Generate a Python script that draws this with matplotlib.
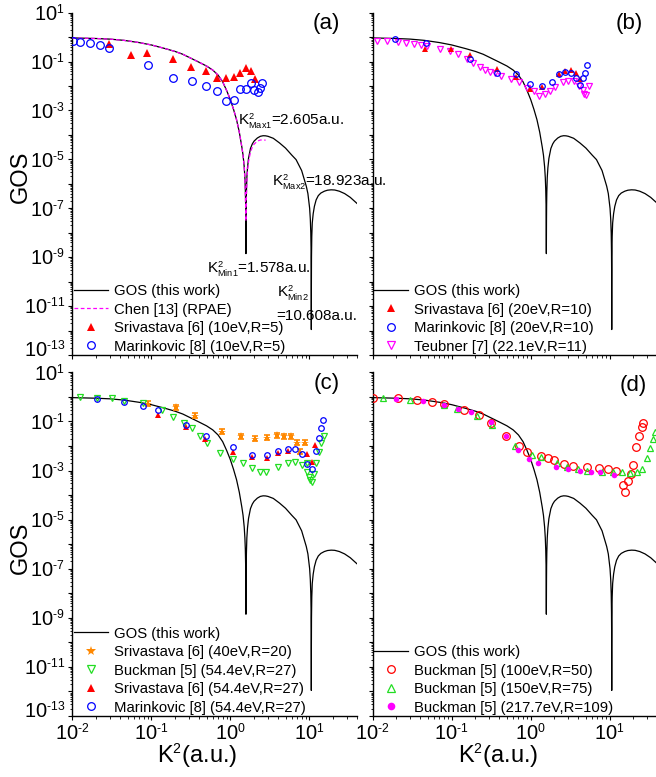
import numpy as np
import matplotlib
matplotlib.use("Agg")
import matplotlib.pyplot as plt
import matplotlib._mathtext as mathtext_internal
from matplotlib.ticker import LogLocator, FuncFormatter, NullFormatter
from matplotlib.transforms import ScaledTranslation

plt.rcParams["font.family"] = "Liberation Sans"
plt.rcParams["mathtext.fontset"] = "custom"
plt.rcParams["mathtext.rm"] = "Liberation Sans"
plt.rcParams["mathtext.it"] = "Liberation Sans:italic"
plt.rcParams["mathtext.bf"] = "Liberation Sans:bold"
# Origin-style exponents are smaller than matplotlib's default
mathtext_internal.SHRINK_FACTOR = 0.6

# ---- theory curve: GOS (this work) ----
gos_k2 = [0.01, 0.02, 0.03, 0.045, 0.07, 0.1, 0.15, 0.2, 0.25, 0.3, 0.4, 0.5, 0.6,
          0.7, 0.8, 0.9, 1.0, 1.1, 1.2, 1.3, 1.4, 1.45, 1.5, 1.53, 1.55, 1.565,
          1.572, 1.576, 1.578, 1.580, 1.584, 1.59, 1.6, 1.62, 1.65, 1.7, 1.8, 1.9,
          2.0, 2.2, 2.4, 2.605, 2.8, 3.0, 3.5, 4.2, 5.0, 6.0, 6.8, 8.0, 9.16, 9.6,
          10.1, 10.3, 10.45, 10.54, 10.58, 10.6, 10.608, 10.62, 10.66, 10.75, 10.9,
          11.2, 11.6, 12.2, 13.0, 14.0, 15.5, 17.0, 18.923, 21.0, 24.0, 28.0, 33.0, 40.0]
gos_val = [0.93, 0.88, 0.83, 0.74, 0.60, 0.48, 0.34, 0.26, 0.20, 0.15, 0.095, 0.066, 0.045,
           0.028, 0.015, 6.5e-3, 2.8e-3, 1.1e-3, 4.2e-4, 1.3e-4, 3.2e-5, 1.5e-5, 5e-6, 1.8e-6,
           6e-7, 1.3e-7, 3e-8, 4e-9, 1.4e-9, 5e-9, 3e-8, 1.3e-7, 4.5e-7, 1.8e-6, 4.5e-6,
           1.1e-5, 2.8e-5, 4.3e-5, 5.6e-5, 7.5e-5, 8.8e-5, 9.3e-5, 9.2e-5, 8.8e-5, 7.3e-5,
           4.7e-5, 2.9e-5, 1.5e-5, 9.8e-6, 3.5e-6, 8e-7, 4e-7, 1.0e-7, 3.6e-8, 9.7e-9,
           1.7e-9, 3e-10, 2.4e-11, 1.1e-12, 5e-11, 1e-9, 7e-9, 2.5e-8, 6e-8, 1.2e-7,
           2.2e-7, 3.3e-7, 4.2e-7, 5.0e-7, 5.5e-7, 5.7e-7, 5.6e-7, 5.0e-7, 4.0e-7, 2.8e-7, 1.6e-7]

# Chen [13] (RPAE)
rpae_k2 = [0.01, 0.02, 0.03, 0.045, 0.07, 0.1, 0.15, 0.2, 0.25, 0.3, 0.4, 0.5, 0.6,
           0.7, 0.8, 0.9, 1.0, 1.1, 1.2, 1.3, 1.4, 1.45, 1.5, 1.53, 1.55, 1.565, 1.578,
           1.59, 1.6, 1.62, 1.65, 1.7, 1.8, 1.9, 2.0, 2.2, 2.4, 2.6, 2.8]
rpae_val = [0.93, 0.88, 0.83, 0.74, 0.60, 0.48, 0.34, 0.26, 0.20, 0.15, 0.095, 0.066, 0.045,
            0.028, 0.015, 6.5e-3, 2.8e-3, 1.1e-3, 4.2e-4, 1.3e-4, 3.2e-5, 1.5e-5, 5e-6, 1.5e-6,
            4e-7, 1e-7, 3e-8, 1e-7, 3e-7, 1.3e-6, 3.5e-6, 8e-6, 2e-5, 3.2e-5, 4.2e-5, 5.6e-5,
            6.2e-5, 6.3e-5, 6.1e-5]

# ---- panel (a) ----
a_sri_k2 = [0.0294, 0.0547, 0.089, 0.186, 0.32, 0.487, 0.684, 0.889, 1.12, 1.34, 1.6, 1.83, 2.03]
a_sri_gos = [0.51, 0.187, 0.22, 0.129, 0.063, 0.043, 0.021, 0.0215, 0.023, 0.034, 0.054, 0.042, 0.019]
a_mar_k2 = [0.0102, 0.0126, 0.0166, 0.0222, 0.0294, 0.0908, 0.188, 0.324, 0.487, 0.684,
            0.889, 1.12, 1.34, 1.6, 1.83, 2.01, 2.24, 2.38, 2.54]
a_mar_gos = [0.70, 0.66, 0.56, 0.47, 0.37, 0.073, 0.022, 0.016, 0.0105, 6.0e-3,
             2.4e-3, 2.6e-3, 7.8e-3, 7.8e-3, 0.013, 6.9e-3, 5.6e-3, 8.7e-3, 0.0138]

# ---- panel (b) ----
b_sri_k2 = [0.0459, 0.098, 0.171, 0.372, 0.652, 0.98, 1.39, 2.28, 2.74, 3.27, 3.74, 4.17]
b_sri_gos = [0.33, 0.32, 0.18, 0.050, 0.023, 7.4e-3, 8.8e-3, 0.030, 0.042, 0.045, 0.033, 0.020]
b_mar_k2 = [0.0193, 0.0469, 0.171, 0.372, 0.652, 0.98, 1.39, 1.84, 2.28, 2.74, 3.27,
            3.74, 4.17, 4.55, 4.9, 5.16]
b_mar_gos = [0.82, 0.56, 0.133, 0.034, 0.032, 0.012, 0.010, 0.015, 0.032, 0.037, 0.034,
             0.022, 0.011, 0.022, 0.034, 0.071]
b_teu_k2 = [0.0112, 0.0153, 0.0207, 0.0266, 0.0333, 0.0405, 0.0483, 0.0705, 0.095, 0.121,
            0.155, 0.188, 0.228, 0.264, 0.305, 0.35, 0.417, 0.56, 0.718, 0.9, 1.1, 1.28,
            1.5, 1.76, 2.03, 2.54, 2.98, 3.57, 4.12, 4.55, 4.76, 4.96, 5.46]
b_teu_gos = [0.68, 0.68, 0.64, 0.56, 0.54, 0.49, 0.45, 0.33, 0.26, 0.20,
             0.125, 0.086, 0.063, 0.046, 0.039, 0.034, 0.027, 0.019, 0.014, 8.1e-3, 6.0e-3, 4.0e-3,
             4.7e-3, 6.3e-3, 9.5e-3, 0.014, 0.0167, 0.016, 0.0102, 6.6e-3, 4.8e-3, 4.5e-3, 0.0105]

# ---- panel (c) ----
c_star_k2 = [0.0916, 0.203, 0.357, 0.785, 1.38, 2.07, 2.91, 3.9, 4.83, 5.86, 6.98, 7.7, 8.9]
c_star_gos = [0.52, 0.37, 0.17, 0.038, 0.025, 0.020, 0.022, 0.027, 0.025, 0.025, 0.0135, 5.9e-3, 0.0135]
c_buck_k2 = [0.0124, 0.0207, 0.0315, 0.0451, 0.0785, 0.135, 0.19, 0.26, 0.33, 0.417, 0.507,
             0.746, 1.08, 1.45, 1.88, 2.35, 2.86, 3.98, 5.3, 6.65, 8.0, 9.3, 9.44, 9.8, 10.3,
             10.8, 11.6, 12.2, 13.2, 14.2, 15.2]
c_buck_gos = [0.97, 0.91, 0.86, 0.71, 0.55, 0.30, 0.149, 0.085, 0.052, 0.025, 0.0128,
              5.4e-3, 2.9e-3, 2.0e-3, 1.23e-3, 8.7e-4, 8.7e-4, 1.35e-3, 2.0e-3, 2.3e-3, 1.74e-3,
              8.5e-4, 2.0e-3, 5.6e-4, 4.2e-4, 3.3e-4, 7.1e-4, 2.0e-3, 5.9e-3, 0.0128, 0.025]
c_sri_k2 = [0.123, 0.272, 0.48, 1.08, 1.88, 2.91, 3.98, 5.3, 9.44, 10.8, 11.9]
c_sri_gos = [0.19, 0.057, 0.020, 5.6e-3, 3.6e-3, 3.2e-3, 5.0e-3, 6.0e-3, 4.7e-3, 2.3e-3, 0.011]
c_mar_k2 = [0.0207, 0.0451, 0.0785, 0.123, 0.272, 0.487, 1.08, 1.88, 2.91, 3.98, 5.3,
            6.65, 8.0, 9.44, 10.8, 12.0, 13.2, 14.2, 15.0]
c_mar_gos = [0.78, 0.59, 0.41, 0.28, 0.071, 0.025, 8.9e-3, 4.3e-3, 4.3e-3, 6.5e-3, 7.5e-3,
             7.5e-3, 4.7e-3, 1.86e-3, 1.2e-3, 6.3e-3, 0.022, 0.055, 0.11]

# ---- panel (d) ----
d_b100_k2 = [0.01, 0.0207, 0.0367, 0.0564, 0.0805, 0.142, 0.222, 0.314, 0.49, 0.711, 0.89,
             1.35, 1.67, 1.97, 2.64, 3.46, 5.12, 7.38, 9.6, 12.0, 14.6, 15.8, 17.1, 18.5,
             19.6, 21.5, 23.7, 25.9, 26.6]
d_b100_gos = [0.91, 0.90, 0.77, 0.61, 0.49, 0.28, 0.19, 0.087, 0.025, 0.0102, 5.6e-3,
              4.0e-3, 3.3e-3, 2.6e-3, 1.8e-3, 1.5e-3, 1.35e-3, 1.23e-3, 1.12e-3, 9.3e-4,
              2.5e-4, 1.35e-4, 3.8e-4, 7.2e-4, 1.7e-3, 8.9e-3, 0.025, 0.057, 0.083]
d_b150_k2 = [0.0136, 0.0296, 0.0805, 0.118, 0.207, 0.323, 0.632, 1.05, 1.34, 2.13, 2.9, 4.0,
             5.12, 7.9, 10.9, 14.5, 18.1, 22.0, 25.4, 29.4, 32.4, 35.6, 37.4]
d_b150_gos = [0.91, 0.77, 0.46, 0.32, 0.164, 0.069, 0.010, 4.3e-3, 3.6e-3, 2.0e-3, 1.35e-3,
              1.12e-3, 1.0e-3, 8.5e-4, 8.3e-4, 8.3e-4, 7.8e-4, 8.3e-4, 1.12e-3, 3.2e-3,
              7.9e-3, 0.019, 0.038]
d_b217_k2 = [0.0197, 0.0437, 0.0803, 0.119, 0.174, 0.312, 0.483, 0.697, 0.95, 1.24, 2.09,
             2.94, 4.2, 5.8, 7.5, 11.3]
d_b217_gos = [0.83, 0.69, 0.47, 0.32, 0.25, 0.091, 0.025, 6.9e-3, 2.9e-3, 2.0e-3, 1.45e-3,
              1.12e-3, 1.0e-3, 8.5e-4, 8.3e-4, 6.8e-4]

RED = "#ff0000"
BLUE = "#0000ff"
MAG = "#ff00ff"
GREEN = "#22dd22"
ORANGE = "#ff8800"

W, H = 656, 777


def fpos(x, y):
    return x / W, 1 - y / H


def decade_text(e):
    sign = "\u2010" if e < 0 else ""
    return r"$\mathdefault{10^{%s%d}}$" % (sign, abs(e))


def odd_decades(v, pos):
    e = int(round(np.log10(v)))
    if e % 2 == 0:
        return ""
    return decade_text(e)


def all_decades(v, pos):
    return decade_text(int(round(np.log10(v))))


def setup(ax, ylabels, xlabels):
    ax.set_xscale("log")
    ax.set_yscale("log")
    ax.set_xlim(0.01, 40)
    ax.set_ylim(1e-13, 10)
    ax.spines["top"].set_visible(False)
    ax.spines["right"].set_visible(False)
    for s in ("left", "bottom"):
        ax.spines[s].set_linewidth(1.0)
    ax.xaxis.set_major_locator(LogLocator(base=10, numticks=20))
    ax.xaxis.set_minor_locator(LogLocator(base=10, subs=np.arange(2, 10), numticks=100))
    ax.yaxis.set_major_locator(LogLocator(base=10, numticks=40))
    ax.yaxis.set_minor_locator(LogLocator(base=10, subs=np.arange(2, 10), numticks=200))
    ax.xaxis.set_major_formatter(FuncFormatter(all_decades) if xlabels else NullFormatter())
    ax.yaxis.set_major_formatter(FuncFormatter(odd_decades) if ylabels else NullFormatter())
    ax.xaxis.set_minor_formatter(NullFormatter())
    ax.yaxis.set_minor_formatter(NullFormatter())
    ax.tick_params(which="major", direction="out", length=3.2, width=0.8, labelsize=14.5, pad=2)
    ax.tick_params(which="minor", direction="out", length=1.8, width=0.6)
    ax.tick_params(labelleft=ylabels, labelbottom=xlabels)


def gos_line(ax):
    ax.plot(gos_k2, gos_val, color="black", lw=0.9, label="GOS (this work)", zorder=2)


leg_kw = dict(loc="lower left", bbox_to_anchor=(0, 0), frameon=False, borderaxespad=0,
              borderpad=0.1, fontsize=10.7, handlelength=2.3, handletextpad=0.4,
              labelspacing=0.3)


def add_legend(ax, handles=None, labels=None):
    if handles is None:
        leg = ax.legend(**leg_kw)
    else:
        leg = ax.legend(handles, labels, **leg_kw)
    for h in leg.legend_handles:
        m = h.get_marker()
        if m == "*":
            h.set_markersize(7.5)
        elif m not in (None, "None", "none", ""):
            h.set_markersize(5.5)
    return leg


fig = plt.figure(figsize=(W / 100, H / 100), dpi=100)
dec = 79.0
wid = np.log10(40 / 0.01) * dec / W
top_b, top_h = 1 - 355 / H, (355 - 12.7) / H
bot_b, bot_h = 1 - 716 / H, (716 - 372.3) / H
axa = fig.add_axes([72.3 / W, top_b, wid, top_h])
axb = fig.add_axes([372.7 / W, top_b, wid, top_h])
axc = fig.add_axes([72.3 / W, bot_b, wid, bot_h])
axd = fig.add_axes([372.7 / W, bot_b, wid, bot_h])

# (a)
setup(axa, True, False)
gos_line(axa)
axa.plot(rpae_k2, rpae_val, color=MAG, lw=0.9, ls=(0, (3, 2)), label="Chen [13] (RPAE)", zorder=3)
axa.plot(a_sri_k2, a_sri_gos, ls="none", marker="^", ms=5.5, color=RED, mew=0,
         label="Srivastava [6] (10eV,R=5)", zorder=4)
axa.plot(a_mar_k2, a_mar_gos, ls="none", marker="o", ms=5.5, mfc="none", mec=BLUE, mew=0.9,
         label="Marinkovic [8] (10eV,R=5)", zorder=4)
add_legend(axa)

# (b)
setup(axb, False, False)
gos_line(axb)
axb.plot(b_teu_k2, b_teu_gos, ls="none", marker="v", ms=4.5, mfc="none", mec=MAG, mew=0.9,
         label="Teubner [7] (22.1eV,R=11)", zorder=3)
axb.plot(b_sri_k2, b_sri_gos, ls="none", marker="^", ms=4.5, color=RED, mew=0,
         label="Srivastava [6] (20eV,R=10)", zorder=4)
axb.plot(b_mar_k2, b_mar_gos, ls="none", marker="o", ms=4, mfc="none", mec=BLUE, mew=0.9,
         label="Marinkovic [8] (20eV,R=10)", zorder=5)
hb, lb = axb.get_legend_handles_labels()
add_legend(axb, [hb[0], hb[2], hb[3], hb[1]], [lb[0], lb[2], lb[3], lb[1]])

# (c)
setup(axc, True, True)
gos_line(axc)
cs = np.array(c_star_gos)
axc.errorbar(c_star_k2, c_star_gos, yerr=[cs * 0.22, cs * 0.28], fmt="none", ecolor=ORANGE,
             elinewidth=1.5, capsize=2.2, capthick=1.2, zorder=3)
axc.plot(c_star_k2, c_star_gos, ls="none", marker="*", ms=6, color=ORANGE, mew=0,
         label="Srivastava [6] (40eV,R=20)", zorder=3)
axc.plot(c_buck_k2, c_buck_gos, ls="none", marker="v", ms=4.5, mfc="none", mec=GREEN, mew=0.9,
         label="Buckman [5] (54.4eV,R=27)", zorder=4)
axc.plot(c_sri_k2, c_sri_gos, ls="none", marker="^", ms=4.5, color=RED, mew=0,
         label="Srivastava [6] (54.4eV,R=27)", zorder=4)
axc.plot(c_mar_k2, c_mar_gos, ls="none", marker="o", ms=4, mfc="none", mec=BLUE, mew=0.9,
         label="Marinkovic [8] (54.4eV,R=27)", zorder=5)
add_legend(axc)

# (d)
setup(axd, False, True)
gos_line(axd)
axd.plot(d_b100_k2, d_b100_gos, ls="none", marker="o", ms=5.5, mfc="none", mec=RED, mew=0.9,
         label="Buckman [5] (100eV,R=50)", zorder=3)
axd.plot(d_b150_k2, d_b150_gos, ls="none", marker="^", ms=4.5, mfc="none", mec=GREEN, mew=0.9,
         label="Buckman [5] (150eV,R=75)", zorder=4)
axd.plot(d_b217_k2, d_b217_gos, ls="none", marker="o", ms=4, color=MAG, mew=0,
         label="Buckman [5] (217.7eV,R=109)", zorder=5)
add_legend(axd)

# panel tags
for tag, (x, y) in zip(["(a)", "(b)", "(c)", "(d)"],
                       [(326.5, 23), (629.5, 23), (327, 383), (633.5, 385)]):
    fig.text(*fpos(x, y), tag, fontsize=16, ha="center", va="center")

# annotations in panel (a)
ann = 11
fig.text(*fpos(238, 125), r"$\mathrm{K^2_{Max1}}$=2.605a.u.", fontsize=ann, va="baseline")
fig.text(*fpos(271.7, 186), r"$\mathrm{K^2_{Max2}}$=18.923a.u.", fontsize=ann, va="baseline")
fig.text(*fpos(207.3, 272.7), r"$\mathrm{K^2_{Min1}}$=1.578a.u.", fontsize=ann, va="baseline")
fig.text(*fpos(276.7, 296.7), r"$\mathrm{K^2_{Min2}}$", fontsize=ann, va="baseline")
fig.text(*fpos(276.7, 320), "=10.608a.u.", fontsize=ann, va="baseline")

# axis titles
fig.text(*fpos(21, 177), "GOS", fontsize=17, rotation=90, ha="center", va="center")
fig.text(*fpos(21, 548), "GOS", fontsize=17, rotation=90, ha="center", va="center")
fig.text(*fpos(197, 756), r"K$^2$(a.u.)", fontsize=17, ha="center", va="center")
fig.text(*fpos(498, 756), r"K$^2$(a.u.)", fontsize=17, ha="center", va="center")

# the lowest y label sits a little above its tick, as in the original
fig.canvas.draw()
lift = ScaledTranslation(0, 6 / 100, fig.dpi_scale_trans)
for ax in (axa, axc):
    for t in ax.yaxis.get_major_ticks():
        if np.isclose(np.log10(t.get_loc()), -13):
            t.label1.set_transform(t.label1.get_transform() + lift)

fig.savefig("out.png", dpi=100)
